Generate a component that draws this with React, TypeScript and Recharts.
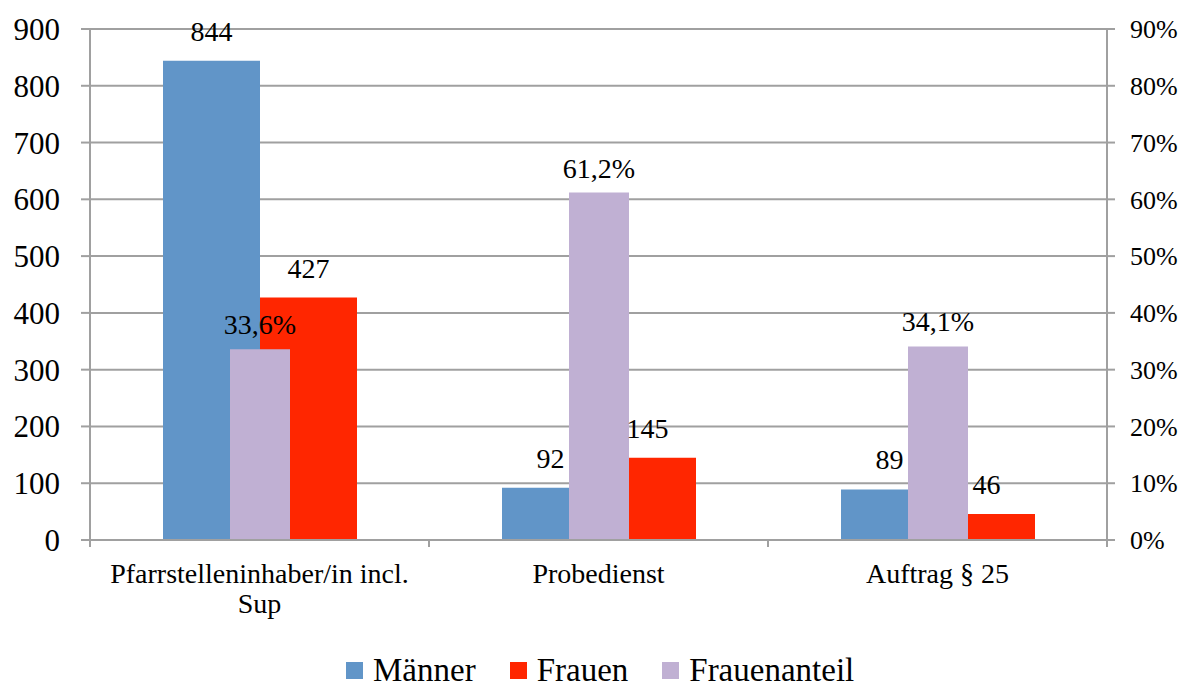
import React from "react";
import { BarChart, Bar, XAxis, YAxis, CartesianGrid, LabelList, Legend } from "recharts";

const categories = ["Pfarrstelleninhaber/in incl. Sup", "Probedienst", "Auftrag § 25"];
const maenner = [844, 92, 89];
const frauen = [427, 145, 46];
const frauenanteil = [33.6, 61.2, 34.1];
const leftTicks = [0, 100, 200, 300, 400, 500, 600, 700, 800, 900];
const rightTicks = [0, 10, 20, 30, 40, 50, 60, 70, 80, 90];
const seriesNames = ["Männer", "Frauen", "Frauenanteil"];
const seriesColors = ["#6195C8", "#FF2600", "#C0B0D3"];

const FONT = "'Liberation Serif', 'Times New Roman', serif";
const GRID = "#A0A0A0";
const W = 1189;
const H = 689;
const LEFT_W = 90;
const RIGHT_W = 82;
const BAND = (W - LEFT_W - RIGHT_W) / categories.length;
const CAT_FONT = 28;

const data = categories.map((name, i) => ({
  name,
  maenner: maenner[i],
  frauen: frauen[i],
  anteil: frauenanteil[i],
}));

let ctx: CanvasRenderingContext2D | null = null;
const measure = (s: string) => {
  if (!ctx && typeof document !== "undefined") {
    ctx = document.createElement("canvas").getContext("2d");
  }
  if (!ctx) return s.length * CAT_FONT * 0.45;
  ctx.font = `${CAT_FONT}px ${FONT}`;
  return ctx.measureText(s).width;
};

const wrapWords = (s: string, maxW: number) => {
  const words = String(s).split(" ");
  const lines: string[] = [];
  let cur = "";
  words.forEach((w) => {
    const t = cur ? `${cur} ${w}` : w;
    if (cur && measure(t) > maxW) {
      lines.push(cur);
      cur = w;
    } else {
      cur = t;
    }
  });
  if (cur) lines.push(cur);
  return lines;
};

const CategoryTick = (props: any) => {
  const { x, y, payload, index } = props;
  const half = payload && typeof payload.offset === "number" && payload.offset > 0 ? payload.offset : BAND / 2;
  const axisY = y - 23;
  const idx = typeof index === "number" ? index : payload.index;
  const lines = wrapWords(payload.value, 325);
  return (
    <g>
      <line x1={x - half} x2={x - half} y1={axisY} y2={axisY + 7} stroke={GRID} strokeWidth={2} />
      {idx === categories.length - 1 && (
        <line x1={x + half} x2={x + half} y1={axisY} y2={axisY + 7} stroke={GRID} strokeWidth={2} />
      )}
      <text x={x} y={y + 20} textAnchor="middle" fontFamily={FONT} fontSize={CAT_FONT} fill="#000">
        {lines.map((l, i) => (
          <tspan key={i} x={x} dy={i === 0 ? 0 : 30}>
            {l}
          </tspan>
        ))}
      </text>
    </g>
  );
};

const renderLegend = () => (
  <div style={{ display: "flex", alignItems: "center", fontFamily: FONT, fontSize: 33, lineHeight: "38px", color: "#000" }}>
    {seriesNames.map((n, i) => (
      <div key={n} style={{ display: "flex", alignItems: "center", marginRight: 34 }}>
        <span style={{ display: "inline-block", width: 17, height: 17, background: seriesColors[i], marginRight: 10 }} />
        <span>{n}</span>
      </div>
    ))}
  </div>
);

const fmtPct = (v: any) => `${Number(v).toFixed(1).replace(".", ",")}%`;

export default function App() {
  return (
    <div style={{ position: "absolute", left: 0, top: 0, width: W, height: H, background: "#fff" }}>
      <BarChart width={W} height={H} data={data} margin={{ top: 29, right: 0, bottom: 0, left: 0 }} barGap={0}>
        <CartesianGrid xAxisId="cat" yAxisId="left" vertical={false} stroke={GRID} strokeWidth={2} />
        <XAxis
          xAxisId="cat"
          dataKey="name"
          height={149}
          interval={0}
          tickLine={false}
          tickSize={0}
          tickMargin={23}
          axisLine={{ stroke: GRID, strokeWidth: 2 }}
          tick={<CategoryTick />}
        />
        <XAxis xAxisId="pct" dataKey="name" hide />
        <YAxis
          yAxisId="left"
          width={LEFT_W}
          domain={[0, 900]}
          ticks={leftTicks}
          interval={0}
          tickSize={9}
          tickMargin={21}
          axisLine={{ stroke: GRID, strokeWidth: 2 }}
          tickLine={{ stroke: GRID, strokeWidth: 2 }}
          tick={{ fontSize: 31, fill: "#000", fontFamily: FONT }}
        />
        <YAxis
          yAxisId="right"
          orientation="right"
          width={RIGHT_W}
          domain={[0, 90]}
          ticks={rightTicks}
          interval={0}
          tickFormatter={(v: number) => `${v}%`}
          tickSize={8}
          tickMargin={15}
          axisLine={{ stroke: GRID, strokeWidth: 2 }}
          tickLine={{ stroke: GRID, strokeWidth: 2 }}
          tick={{ fontSize: 26, fill: "#000", fontFamily: FONT }}
        />
        <Bar xAxisId="cat" yAxisId="left" dataKey="maenner" name={seriesNames[0]} fill={seriesColors[0]} barSize={97} isAnimationActive={false}>
          <LabelList dataKey="maenner" position="top" offset={20} fill="#000" fontSize={28} fontFamily={FONT} />
        </Bar>
        <Bar xAxisId="cat" yAxisId="left" dataKey="frauen" name={seriesNames[1]} fill={seriesColors[1]} barSize={97} isAnimationActive={false}>
          <LabelList dataKey="frauen" position="top" offset={20} fill="#000" fontSize={28} fontFamily={FONT} />
        </Bar>
        <Bar xAxisId="pct" yAxisId="right" dataKey="anteil" name={seriesNames[2]} fill={seriesColors[2]} barSize={60} isAnimationActive={false}>
          <LabelList dataKey="anteil" position="top" offset={15} fill="#000" fontSize={28} fontFamily={FONT} formatter={fmtPct} />
        </Bar>
        <Legend verticalAlign="middle" content={renderLegend} wrapperStyle={{ top: 651, left: 346, width: "auto" }} />
      </BarChart>
    </div>
  );
}
